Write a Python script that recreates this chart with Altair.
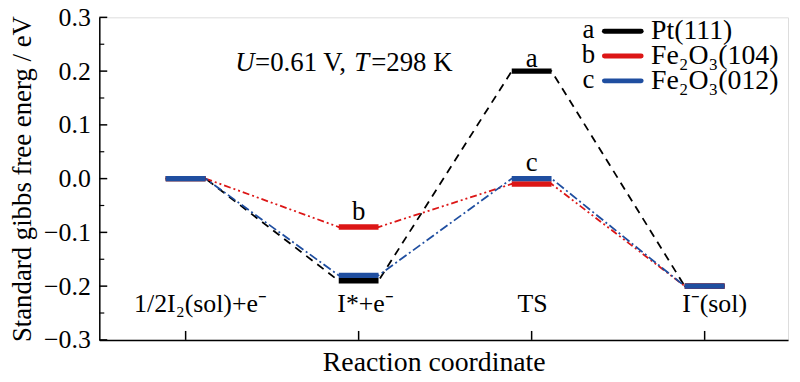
import altair as alt
import pandas as pd

# ---------------- data ----------------
steps = ["1/2I₂(sol)+e⁻", "I*+e⁻", "TS", "I⁻(sol)"]
series = ["Pt(111)", "Fe₂O₃(104)", "Fe₂O₃(012)"]
letters = ["a", "b", "c"]
pt111 = [0.0, -0.19, 0.20, -0.20]
fe104 = [0.0, -0.09, -0.01, -0.20]
fe012 = [0.0, -0.18, 0.0, -0.20]
y_major = [-0.3, -0.2, -0.1, 0.0, 0.1, 0.2, 0.3]
y_minor = [-0.25, -0.15, -0.05, 0.05, 0.15, 0.25]
values = [pt111, fe104, fe012]
label_step = [2, 1, 2]  # which level each letter sits above

# ---------------- layout / style ----------------
FONT = "Liberation Serif"
colors = ["#000000", "#dc1616", "#1f4ea0"]
dashes = [[8, 6], [7, 3, 2, 3, 2, 3], [9, 3, 2, 3]]
positions = [1, 2, 3, 4]
half = 0.115
x_dom = [0.501, 4.482]
y_dom = [-0.3, 0.3]
W, H = 694, 325

xs = alt.Scale(domain=x_dom, nice=False, zero=False)
ys = alt.Scale(domain=y_dom, nice=False, zero=False)

layers = []

# connectors
for s, vals in enumerate(values):
    rows = []
    o = 0
    for i, v in enumerate(vals):
        rows.append({"x": positions[i] - half, "y": v, "o": o}); o += 1
        rows.append({"x": positions[i] + half, "y": v, "o": o}); o += 1
    layers.append(
        alt.Chart(pd.DataFrame(rows)).mark_line(
            color=colors[s], strokeDash=dashes[s], strokeWidth=1.8
        ).encode(
            x=alt.X("x:Q", scale=xs, axis=alt.Axis(
                title="Reaction coordinate", labels=False, ticks=False, grid=False,
                domainColor="black", domainWidth=1.5, titleFont=FONT,
                titleFontSize=28, titleFontWeight="normal", titleColor="black",
                titlePadding=9, titleX=337)),
            y=alt.Y("y:Q", scale=ys, axis=alt.Axis(
                title="Standard gibbs free energ / eV", values=y_major, format=".1f",
                ticks=False, grid=False, labelFont=FONT, labelFontSize=26,
                labelColor="black", labelPadding=9, domainColor="black",
                domainWidth=1.5, titleFont=FONT, titleFontSize=27,
                titleFontWeight="normal", titleColor="black", titlePadding=7)),
            order="o:Q",
        )
    )

# levels
for s, vals in enumerate(values):
    df = pd.DataFrame({
        "x": [p - half for p in positions],
        "x2": [p + half for p in positions],
        "y": vals,
    })
    layers.append(
        alt.Chart(df).mark_rule(color=colors[s], strokeWidth=5.5).encode(
            x=alt.X("x:Q", scale=xs), x2="x2:Q", y=alt.Y("y:Q", scale=ys)
        )
    )

# letters above levels
let_dy = [-4, -7, -8]
for s in range(3):
    i = label_step[s]
    df = pd.DataFrame({"x": [positions[i]], "y": [values[s][i]], "t": [letters[s]]})
    layers.append(
        alt.Chart(df).mark_text(font=FONT, fontSize=27, color="black",
                                baseline="alphabetic", dy=let_dy[s]).encode(
            x=alt.X("x:Q", scale=xs), y=alt.Y("y:Q", scale=ys), text="t:N")
    )

# x tick labels (inside the frame)
lab_dx = [15, 7, 1, 10]
for i in range(4):
    df = pd.DataFrame({"x": [positions[i]], "t": [steps[i]]})
    layers.append(
        alt.Chart(df).mark_text(font=FONT, fontSize=26, color="black",
                                baseline="middle", dx=lab_dx[i]).encode(
            x=alt.X("x:Q", scale=xs), y=alt.value(289), text="t:N")
    )
# x ticks (inward)
layers.append(
    alt.Chart(pd.DataFrame({"x": positions})).mark_rule(color="black", strokeWidth=1.5).encode(
        x=alt.X("x:Q", scale=xs), y=alt.value(H), y2=alt.value(H - 9))
)
# y ticks (inward)
layers.append(
    alt.Chart(pd.DataFrame({"y": y_major})).mark_rule(color="black", strokeWidth=1.5).encode(
        y=alt.Y("y:Q", scale=ys), x=alt.value(0), x2=alt.value(8))
)
layers.append(
    alt.Chart(pd.DataFrame({"y": y_minor})).mark_rule(color="black", strokeWidth=1.2).encode(
        y=alt.Y("y:Q", scale=ys), x=alt.value(0), x2=alt.value(5))
)

# annotation U=0.61 V, T=298 K
ann = [("U", "italic", 0), ("=0.61 V, ", "normal", 20), ("T", "italic", 120), ("=298 K", "normal", 137)]
for txt, style, dx in ann:
    layers.append(
        alt.Chart(pd.DataFrame({"t": [txt]})).mark_text(
            font=FONT, fontSize=27, fontStyle=style, color="black",
            align="left", baseline="middle").encode(
            x=alt.value(137 + dx), y=alt.value(46), text="t:N")
    )

# legend
leg_y = [14, 39, 64]
for s in range(3):
    layers.append(
        alt.Chart(pd.DataFrame({"t": [letters[s]]})).mark_text(
            font=FONT, fontSize=27, color="black", align="center", baseline="middle").encode(
            x=alt.value(493), y=alt.value(leg_y[s] - 1), text="t:N")
    )
    layers.append(
        alt.Chart(pd.DataFrame({"t": [series[s]]})).mark_rule(
            color=colors[s], strokeWidth=5, strokeCap="round").encode(
            x=alt.value(509), x2=alt.value(546), y=alt.value(leg_y[s]))
    )
    layers.append(
        alt.Chart(pd.DataFrame({"t": [series[s]]})).mark_text(
            font=FONT, fontSize=28, color="black", align="left", baseline="middle").encode(
            x=alt.value(556), y=alt.value(leg_y[s]), text="t:N")
    )

chart = alt.layer(*layers).properties(
    width=W, height=H,
    autosize=alt.AutoSizeParams(type="none"),
    padding={"left": 92, "top": 8, "right": 4, "bottom": 40},
).configure_view(stroke="black", strokeWidth=1.5).configure(background="white")

chart.save("out.html", embed_options={"renderer": "svg", "actions": False})
